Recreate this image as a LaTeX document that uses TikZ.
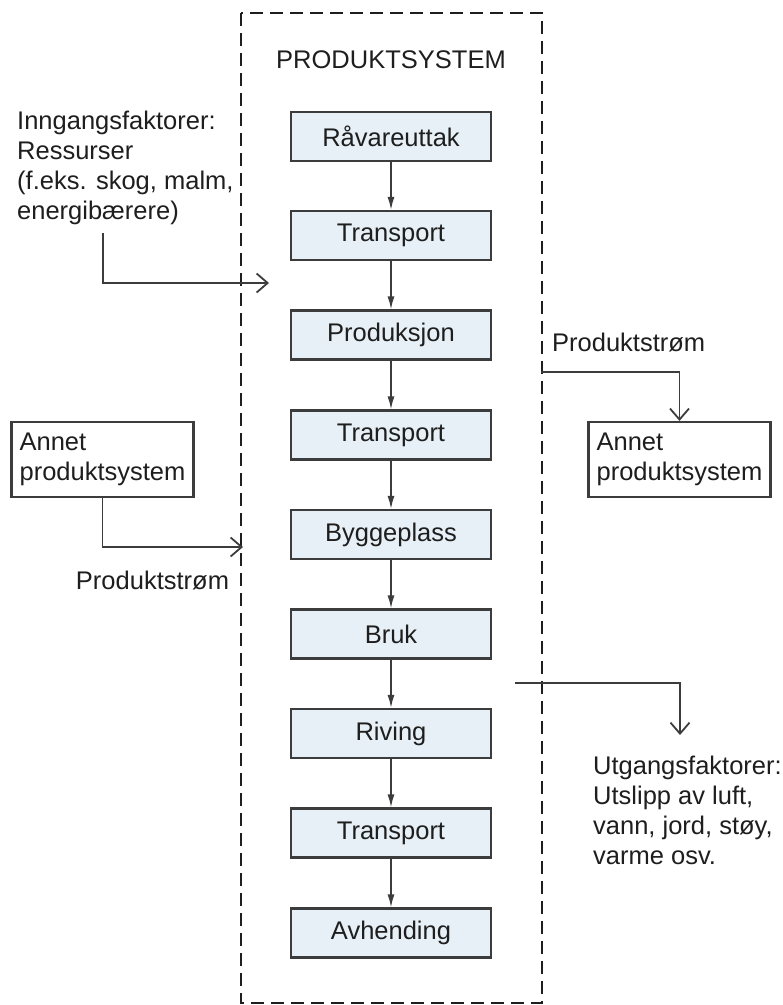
\documentclass[tikz,border=0pt]{standalone}
\usepackage{fontspec}
\setmainfont{Liberation Sans}
\usetikzlibrary{arrows.meta}
\definecolor{boxfill}{RGB}{231,240,246}
\definecolor{ink}{RGB}{30,30,30}
\definecolor{edge}{RGB}{60,60,60}
\tikzset{
  stage/.style={draw=edge, line width=2.2pt, fill=boxfill, minimum width=200pt, minimum height=49pt, inner sep=0pt, text=ink, font=\fontsize{25.5}{30}\selectfont},
  flow/.style={draw=edge, line width=1.5pt, -{Latex[length=13pt,width=7pt]}},
  ext/.style={draw=edge, line width=1.8pt, -{Straight Barb[length=11pt,width=19pt,line width=1.8pt]}},
  other/.style={draw=edge, line width=2.2pt, minimum width=179pt, minimum height=75pt, inner xsep=8pt, align=left, text=ink, font=\fontsize{25.5}{30}\selectfont},
  lbl/.style={text=ink, inner sep=0pt, font=\fontsize{25.5}{30}\selectfont},
  sysbox/.style={draw=ink, line width=2.2pt, dash pattern=on 13pt off 7pt},
}
\begin{document}
\begin{tikzpicture}[x=1pt,y=-1pt]
\useasboundingbox (0,0) rectangle (783,1005);
\fill[white] (0,0) rectangle (783,1005);
% system boundary
\draw[sysbox] (241,13) rectangle (542,1003);
\node[lbl] (title) at (391,60) {PRODUKTSYSTEM};
% stages
\node[stage] (s1) at (391,136.5) {Råvareuttak};
\node[stage] (s2) at (391,235.5) {Transport};
\node[stage] (s3) at (391,335) {Produksjon};
\node[stage] (s4) at (391,435) {Transport};
\node[stage] (s5) at (391,534.5) {Byggeplass};
\node[stage] (s6) at (391,634) {Bruk};
\node[stage] (s7) at (391,733.5) {Riving};
\node[stage] (s8) at (391,833) {Transport};
\node[stage] (s9) at (391,933) {Avhending};
\foreach \a/\b in {s1/s2,s2/s3,s3/s4,s4/s5,s5/s6,s6/s7,s7/s8,s8/s9}
  \draw[flow] (\a) -- (\b);
% inputs
\node[lbl, anchor=north west, align=left] (inp) at (17,111) {Inngangsfaktorer:\\Ressurser\\(f.eks. skog, malm,\\energibærere)};
\coordinate (inStart) at (103,233);
\coordinate (inEnd) at (269,283);
\draw[ext] (inStart) |- (inEnd);
% other product system left
\node[other] (apL) at (102.5,459.5) {Annet\\produktsystem};
\coordinate (apLEnd) at (243,547);
\draw[ext] (apL.south) |- (apLEnd);
\node[lbl] (psL) at (152.5,580) {Produktstrøm};
% other product system right
\node[lbl, anchor=west] (psR) at (552,342) {Produktstrøm};
\node[other] (apR) at (679.5,459.5) {Annet\\produktsystem};
\coordinate (apRStart) at (541,372);
\draw[ext] (apRStart) -| (apR.north);
% outputs
\coordinate (outStart) at (515,683);
\node[lbl, anchor=north west, align=left] (outp) at (593,756) {Utgangsfaktorer:\\Utslipp av luft,\\vann, jord, støy,\\varme osv.};
\coordinate (outEnd) at (680,735);
\draw[ext] (outStart) -| (outEnd);
\end{tikzpicture}
\end{document}
